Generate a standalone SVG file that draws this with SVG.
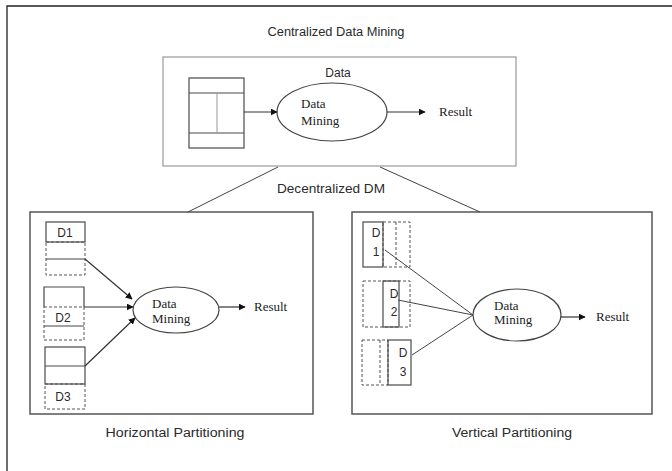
<svg xmlns="http://www.w3.org/2000/svg" width="672" height="471" viewBox="0 0 672 471">
<style>
.sans{font-family:"Liberation Sans","DejaVu Sans",sans-serif;font-size:12px;fill:#2a2a2a}
.serif{font-family:"Liberation Serif","DejaVu Serif",serif;font-size:13px;fill:#222}
.box{fill:none;stroke:#4a4a4a;stroke-width:1.2}
.frame{fill:none;stroke:#555;stroke-width:1.5}
.dash{fill:none;stroke:#555;stroke-width:1;stroke-dasharray:3,2}
.ln{fill:none;stroke:#444;stroke-width:1}
.arr{fill:none;stroke:#333;stroke-width:1.2;marker-end:url(#ah)}
.ell{fill:#fff;stroke:#444;stroke-width:1.2}
</style>
<defs>
<marker id="ah" viewBox="0 0 10 10" refX="9" refY="5" markerWidth="7" markerHeight="7" markerUnits="userSpaceOnUse" orient="auto">
<path d="M0,0 L10,5 L0,10 z" fill="#111"/>
</marker>
</defs>
<rect width="672" height="471" fill="#fff"/>
<g id="outer-frame">
<path d="M7,471 V6 H672" fill="none" stroke="#222" stroke-width="1.3"/>
</g>
<text class="sans" x="336" y="36" text-anchor="middle" textLength="137" lengthAdjust="spacingAndGlyphs">Centralized Data Mining</text>

<g id="centralized">
<rect x="163" y="57" width="353" height="109" fill="none" stroke="#999" stroke-width="1.2"/>
<text class="sans" x="338" y="77" text-anchor="middle">Data</text>
<g id="c-table">
<rect x="189" y="78" width="55" height="70" class="box"/>
<line x1="189" y1="93" x2="244" y2="93" class="box"/>
<line x1="189" y1="133" x2="244" y2="133" class="box"/>
<line x1="217" y1="93" x2="217" y2="133" stroke="#999" stroke-width="1"/>
</g>
<g id="c-dm">
<ellipse cx="332" cy="112" rx="55" ry="29" class="ell"/>
<text class="serif" x="301" y="108">Data</text>
<text class="serif" x="301" y="125">Mining</text>
</g>
<text class="serif" x="439" y="116">Result</text>
</g>

<text class="sans" x="331" y="193" text-anchor="middle" textLength="108" lengthAdjust="spacingAndGlyphs">Decentralized DM</text>

<g id="horizontal">
<rect x="30" y="212" width="283" height="202" class="frame"/>
<g id="h-d1">
<rect x="46" y="222" width="39" height="20" class="box"/>
<rect x="46" y="242" width="39" height="33" class="dash"/>
<line x1="46" y1="259" x2="85" y2="259" class="ln"/>
<text class="sans" x="65" y="237" text-anchor="middle">D1</text>
</g>
<g id="h-d2">
<path d="M44,307 V287 H84 V307" class="box"/>
<rect x="44" y="307" width="40" height="33" class="dash"/>
<line x1="44" y1="326" x2="84" y2="326" class="ln"/>
<text class="sans" x="63" y="322" text-anchor="middle">D2</text>
</g>
<g id="h-d3">
<rect x="45" y="347" width="40" height="37" class="box"/>
<line x1="45" y1="366" x2="85" y2="366" class="box"/>
<rect x="45" y="384" width="40" height="25" class="dash"/>
<text class="sans" x="63" y="401" text-anchor="middle">D3</text>
</g>
<g id="h-dm">
<ellipse cx="176" cy="310" rx="43" ry="23" class="ell"/>
<text class="serif" x="152" y="308">Data</text>
<text class="serif" x="152" y="323">Mining</text>
</g>
<text class="serif" x="254" y="311">Result</text>
<text class="sans" x="175" y="437" text-anchor="middle" textLength="139" lengthAdjust="spacingAndGlyphs">Horizontal Partitioning</text>
</g>

<g id="vertical">
<rect x="352" y="212" width="300" height="202" class="frame"/>
<g id="v-d1">
<rect x="383" y="222" width="27" height="45" class="dash"/>
<line x1="396" y1="222" x2="396" y2="267" class="dash"/>
<rect x="363" y="222" width="20" height="45" class="box"/>
<text class="sans" x="376" y="237" text-anchor="middle">D</text>
<text class="sans" x="376" y="256" text-anchor="middle">1</text>
</g>
<g id="v-d2">
<rect x="363" y="281" width="47" height="46" class="dash"/>
<rect x="383" y="281" width="16" height="46" class="box"/>
<text class="sans" x="394" y="298" text-anchor="middle">D</text>
<text class="sans" x="394" y="316" text-anchor="middle">2</text>
</g>
<g id="v-d3">
<rect x="362" y="340" width="26" height="45" class="dash"/>
<line x1="380" y1="340" x2="380" y2="385" class="dash"/>
<rect x="388" y="340" width="23" height="45" class="box"/>
<text class="sans" x="403" y="357" text-anchor="middle">D</text>
<text class="sans" x="403" y="376" text-anchor="middle">3</text>
</g>
<g id="v-dm">
<ellipse cx="517" cy="315" rx="44" ry="26" class="ell"/>
<text class="serif" x="494" y="310">Data</text>
<text class="serif" x="494" y="324">Mining</text>
</g>
<text class="serif" x="596" y="321">Result</text>
<text class="sans" x="512" y="437" text-anchor="middle" textLength="120" lengthAdjust="spacingAndGlyphs">Vertical Partitioning</text>
</g>

<g id="connectors">
<line x1="244" y1="112" x2="277" y2="112" class="arr"/>
<line x1="387" y1="112" x2="425" y2="112" class="arr"/>
<line x1="278" y1="167" x2="188" y2="212" class="ln"/>
<line x1="380" y1="167" x2="480" y2="212" class="ln"/>
<line x1="85" y1="259" x2="132" y2="299" class="arr"/>
<line x1="84" y1="307" x2="133" y2="307" class="arr"/>
<line x1="85" y1="366" x2="135" y2="318" class="arr"/>
<line x1="219" y1="307" x2="245" y2="307" class="arr"/>
<line x1="385" y1="250" x2="473" y2="315" class="ln"/>
<line x1="398" y1="300" x2="473" y2="315" class="ln"/>
<line x1="412" y1="355" x2="473" y2="315" class="ln"/>
<line x1="561" y1="317" x2="585" y2="317" class="arr"/>
</g>
</svg>
